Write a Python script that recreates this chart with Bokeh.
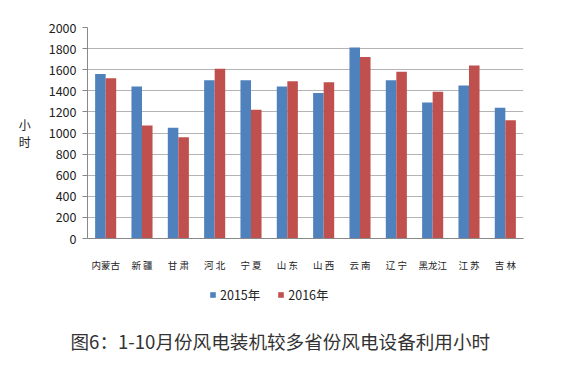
from bokeh.plotting import figure
from bokeh.layouts import column
from bokeh.models import (ColumnDataSource, Legend, LegendItem, Title, FactorRange,
                          SingleIntervalTicker, Range1d)
from bokeh.transform import dodge
from bokeh.embed import file_html
from bokeh.resources import INLINE

provinces = ["内蒙古", "新 疆", "甘 肃", "河 北", "宁 夏", "山 东", "山 西", "云 南", "辽 宁", "黑龙江", "江 苏", "吉 林"]
v2015 = [1560, 1440, 1050, 1500, 1500, 1440, 1380, 1810, 1500, 1290, 1450, 1240]
v2016 = [1520, 1070, 960, 1610, 1220, 1490, 1480, 1720, 1580, 1390, 1640, 1120]
series = ["2015年", "2016年"]
colors = ["#4F81BD", "#C0504D"]
caption = "图6：1-10月份风电装机较多省份风电设备利用小时"

src = ColumnDataSource(dict(prov=provinces, a=v2015, b=v2016))

FONT = "Noto Sans CJK SC"
W = 556
H1 = 275
H2 = 86

p = figure(x_range=FactorRange(*provinces, range_padding=0), y_range=(0, 2000),
           width=W, height=H1, output_backend="svg",
           toolbar_location=None, min_border_left=87, min_border_top=27,
           min_border_right=W - 523, min_border_bottom=H1 - 238, outline_line_color=None,
           background_fill_color="white", border_fill_color="white")

p.vbar(x=dodge("prov", -0.145, range=p.x_range), top="a", width=0.29, source=src,
       fill_color=colors[0], line_color=None)
p.vbar(x=dodge("prov", 0.145, range=p.x_range), top="b", width=0.29, source=src,
       fill_color=colors[1], line_color=None)

p.yaxis.ticker = SingleIntervalTicker(interval=200)
p.yaxis.axis_line_color = "#888888"
p.yaxis.major_tick_line_color = "#888888"
p.yaxis.major_tick_out = 5
p.yaxis.major_tick_in = 0
p.yaxis.minor_tick_line_color = None
p.yaxis.major_label_text_font = FONT
p.yaxis.major_label_text_font_size = "12.5px"
p.yaxis.major_label_text_color = "#222222"
p.yaxis.major_label_standoff = 6
p.yaxis.axis_label = "小\n时"
p.yaxis.axis_label_orientation = "horizontal"
p.yaxis.axis_label_text_font = FONT
p.yaxis.axis_label_text_font_size = "12px"
p.yaxis.axis_label_text_font_style = "normal"
p.yaxis.axis_label_text_color = "#222222"
p.yaxis.axis_label_text_line_height = 1.0
p.yaxis.axis_label_standoff = 15

p.xaxis.axis_line_color = "#888888"
p.xaxis.major_tick_line_color = None
p.xaxis.minor_tick_line_color = None
p.xaxis.major_label_text_font = FONT
p.xaxis.major_label_text_font_size = "9.5px"
p.xaxis.major_label_text_color = "#222222"
p.xaxis.major_label_standoff = 13

p.xgrid.grid_line_color = None
p.ygrid.grid_line_color = "#b4b4b4"
p.ygrid.grid_line_width = 1

# lower panel: legend + caption (frame aligned with the chart above)
FB = 324  # page y of the lower frame bottom
q = figure(width=W, height=H2, x_range=p.x_range, y_range=Range1d(0, 1),
           output_backend="svg", toolbar_location=None, x_axis_type=None, y_axis_type=None,
           min_border_left=87, min_border_right=W - 523, min_border_top=0,
           min_border_bottom=H1 + H2 - FB, outline_line_color=None,
           background_fill_color="white", border_fill_color="white")
q.grid.visible = False
e1 = q.vbar(x="prov", top="a", width=0.29, source=src, fill_color=colors[0],
            line_color=None, visible=False)
e2 = q.vbar(x="prov", top="b", width=0.29, source=src, fill_color=colors[1],
            line_color=None, visible=False)

legend = Legend(items=[LegendItem(label=series[0], renderers=[e1]),
                       LegendItem(label=series[1], renderers=[e2])],
                orientation="horizontal", location=(209 - 87, FB - 304),
                label_text_font=FONT, label_text_font_size="12.5px",
                label_text_color="#222222", glyph_width=7, glyph_height=7,
                label_standoff=4, spacing=17, padding=2, margin=0,
                border_line_color=None, background_fill_alpha=0,
                inactive_fill_alpha=0, click_policy="none")
q.add_layout(legend, "center")

t = Title(text=caption, align="left", offset=70 - 87,
          text_font=FONT, text_font_size="18.6px", text_font_style="normal",
          text_color="#333333", standoff=0)
q.add_layout(t, "below")

open("out.html", "w").write(file_html(column(p, q, spacing=0), INLINE))
